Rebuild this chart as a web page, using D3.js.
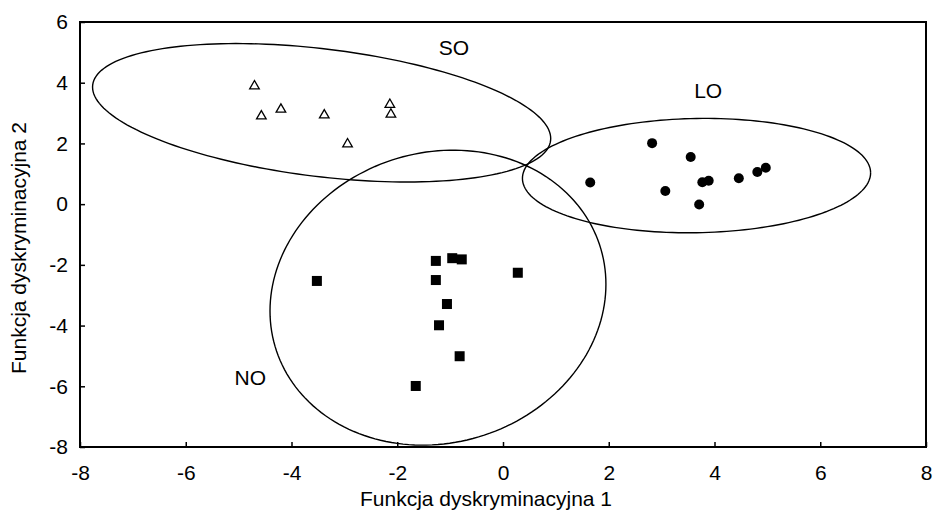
<!DOCTYPE html>
<html lang="pl">
<head>
<meta charset="utf-8">
<script src="https://d3js.org/d3.v7.min.js"></script>
<title>Funkcje dyskryminacyjne</title>
<style>
    body { margin: 0; background: #fff; }
    svg { display: block; font-family: "Liberation Sans", Arial, sans-serif; }
    .tick text { font-size: 21px; fill: #000; }
</style>
</head>
<body>
<svg width="933" height="518"></svg>
<script>
// points
const soX = [-4.70, -4.57, -4.20, -3.38, -2.94, -2.14, -2.12]
const soY = [3.89, 2.90, 3.12, 2.93, 1.98, 3.28, 2.96]

const loX = [2.82, 3.55, 1.65, 3.07, 3.77, 3.89, 3.71, 4.46, 4.81, 4.97]
const loY = [2.01, 1.55, 0.71, 0.43, 0.72, 0.77, -0.01, 0.85, 1.06, 1.20]

const noX = [-3.52, -1.27, -0.96, -0.78, -1.27, 0.28, -1.06, -1.21, -0.82, -1.65]
const noY = [-2.53, -1.87, -1.78, -1.82, -2.50, -2.26, -3.29, -3.99, -5.01, -5.99]

// ellipses: centre and covariance (xx, yy, xy) in data units
const groupNames = ["SO", "LO", "NO"]
const ellCenter = [[-3.43, 3.01], [3.66, 0.94], [-1.23, -3.08]]
const ellCov = [[18.77, 5.20, -3.67], [10.84, 3.55, 0.30], [10.09, 23.60, 1.40]]
const labelPos = [[-0.93, 5.15], [3.88, 3.75], [-4.78, -5.70]]

const xTicks = [-8, -6, -4, -2, 0, 2, 4, 6, 8]
const yTicks = [-8, -6, -4, -2, 0, 2, 4, 6]

const svg = d3.select("svg")
let margins = {top: 22, bottom: 71, left: 80, right: 7}
const W = 933, H = 518

const x = d3.scaleLinear().domain([-8, 8]).range([margins.left, W - margins.right])
const y = d3.scaleLinear().domain([-8, 6]).range([H - margins.bottom, margins.top])

// axes, ticks pointing inside, plain hyphen for minus
svg.append("g")
    .attr("transform", "translate(0," + y(-8) + ")")
    .call(d3.axisBottom(x).tickValues(xTicks).tickFormat(d => String(d))
        .tickSizeInner(-5).tickSizeOuter(0).tickPadding(18))
    .call(g => g.select(".domain").remove())
svg.append("g")
    .attr("transform", "translate(" + x(-8) + ",0)")
    .call(d3.axisLeft(y).tickValues(yTicks).tickFormat(d => String(d))
        .tickSizeInner(-5).tickSizeOuter(0).tickPadding(12))
    .call(g => g.select(".domain").remove())
svg.selectAll(".tick line").attr("stroke", "#000").attr("stroke-width", 1.5)

// frame
svg.append("rect")
    .attr("x", x(-8)).attr("y", y(6))
    .attr("width", x(8) - x(-8)).attr("height", y(-8) - y(6))
    .attr("fill", "none").attr("stroke", "#000").attr("stroke-width", 2)

// ellipses
const line = d3.line().x(d => x(d[0])).y(d => y(d[1]))
ellCenter.forEach((c, i) => {
    const [sxx, syy, sxy] = ellCov[i]
    const l11 = Math.sqrt(sxx), l21 = sxy / l11, l22 = Math.sqrt(syy - l21 * l21)
    const pts = d3.range(0, 361, 2).map(a => {
        const t = a * Math.PI / 180
        return [c[0] + l11 * Math.cos(t), c[1] + l21 * Math.cos(t) + l22 * Math.sin(t)]
    })
    svg.append("path").attr("d", line(pts))
        .attr("fill", "none").attr("stroke", "#000").attr("stroke-width", 1.4)
})

// markers
const tri = d3.symbol().type(d3.symbolTriangle).size(40)
svg.append("g").selectAll("path").data(d3.zip(soX, soY)).enter().append("path")
    .attr("d", tri)
    .attr("transform", d => "translate(" + x(d[0]) + "," + y(d[1]) + ")")
    .attr("fill", "#fff").attr("stroke", "#000").attr("stroke-width", 1.3)

svg.append("g").selectAll("circle").data(d3.zip(loX, loY)).enter().append("circle")
    .attr("cx", d => x(d[0])).attr("cy", d => y(d[1])).attr("r", 5)
    .attr("fill", "#000")

svg.append("g").selectAll("rect").data(d3.zip(noX, noY)).enter().append("rect")
    .attr("x", d => x(d[0]) - 5).attr("y", d => y(d[1]) - 5)
    .attr("width", 10).attr("height", 10)
    .attr("fill", "#000")

// group labels
svg.append("g").selectAll("text").data(groupNames).enter().append("text")
    .attr("x", (d, i) => x(labelPos[i][0])).attr("y", (d, i) => y(labelPos[i][1]))
    .attr("text-anchor", "middle").attr("dominant-baseline", "central")
    .style("font-size", "21px")
    .text(d => d)

// axis titles
svg.append("text")
    .attr("x", 486).attr("y", 506)
    .attr("text-anchor", "middle").style("font-size", "21px")
    .text("Funkcja dyskryminacyjna 1")
svg.append("text")
    .attr("transform", "translate(26,248) rotate(-90)")
    .attr("text-anchor", "middle").style("font-size", "21px")
    .text("Funkcja dyskryminacyjna 2")
</script>
</body>
</html>
